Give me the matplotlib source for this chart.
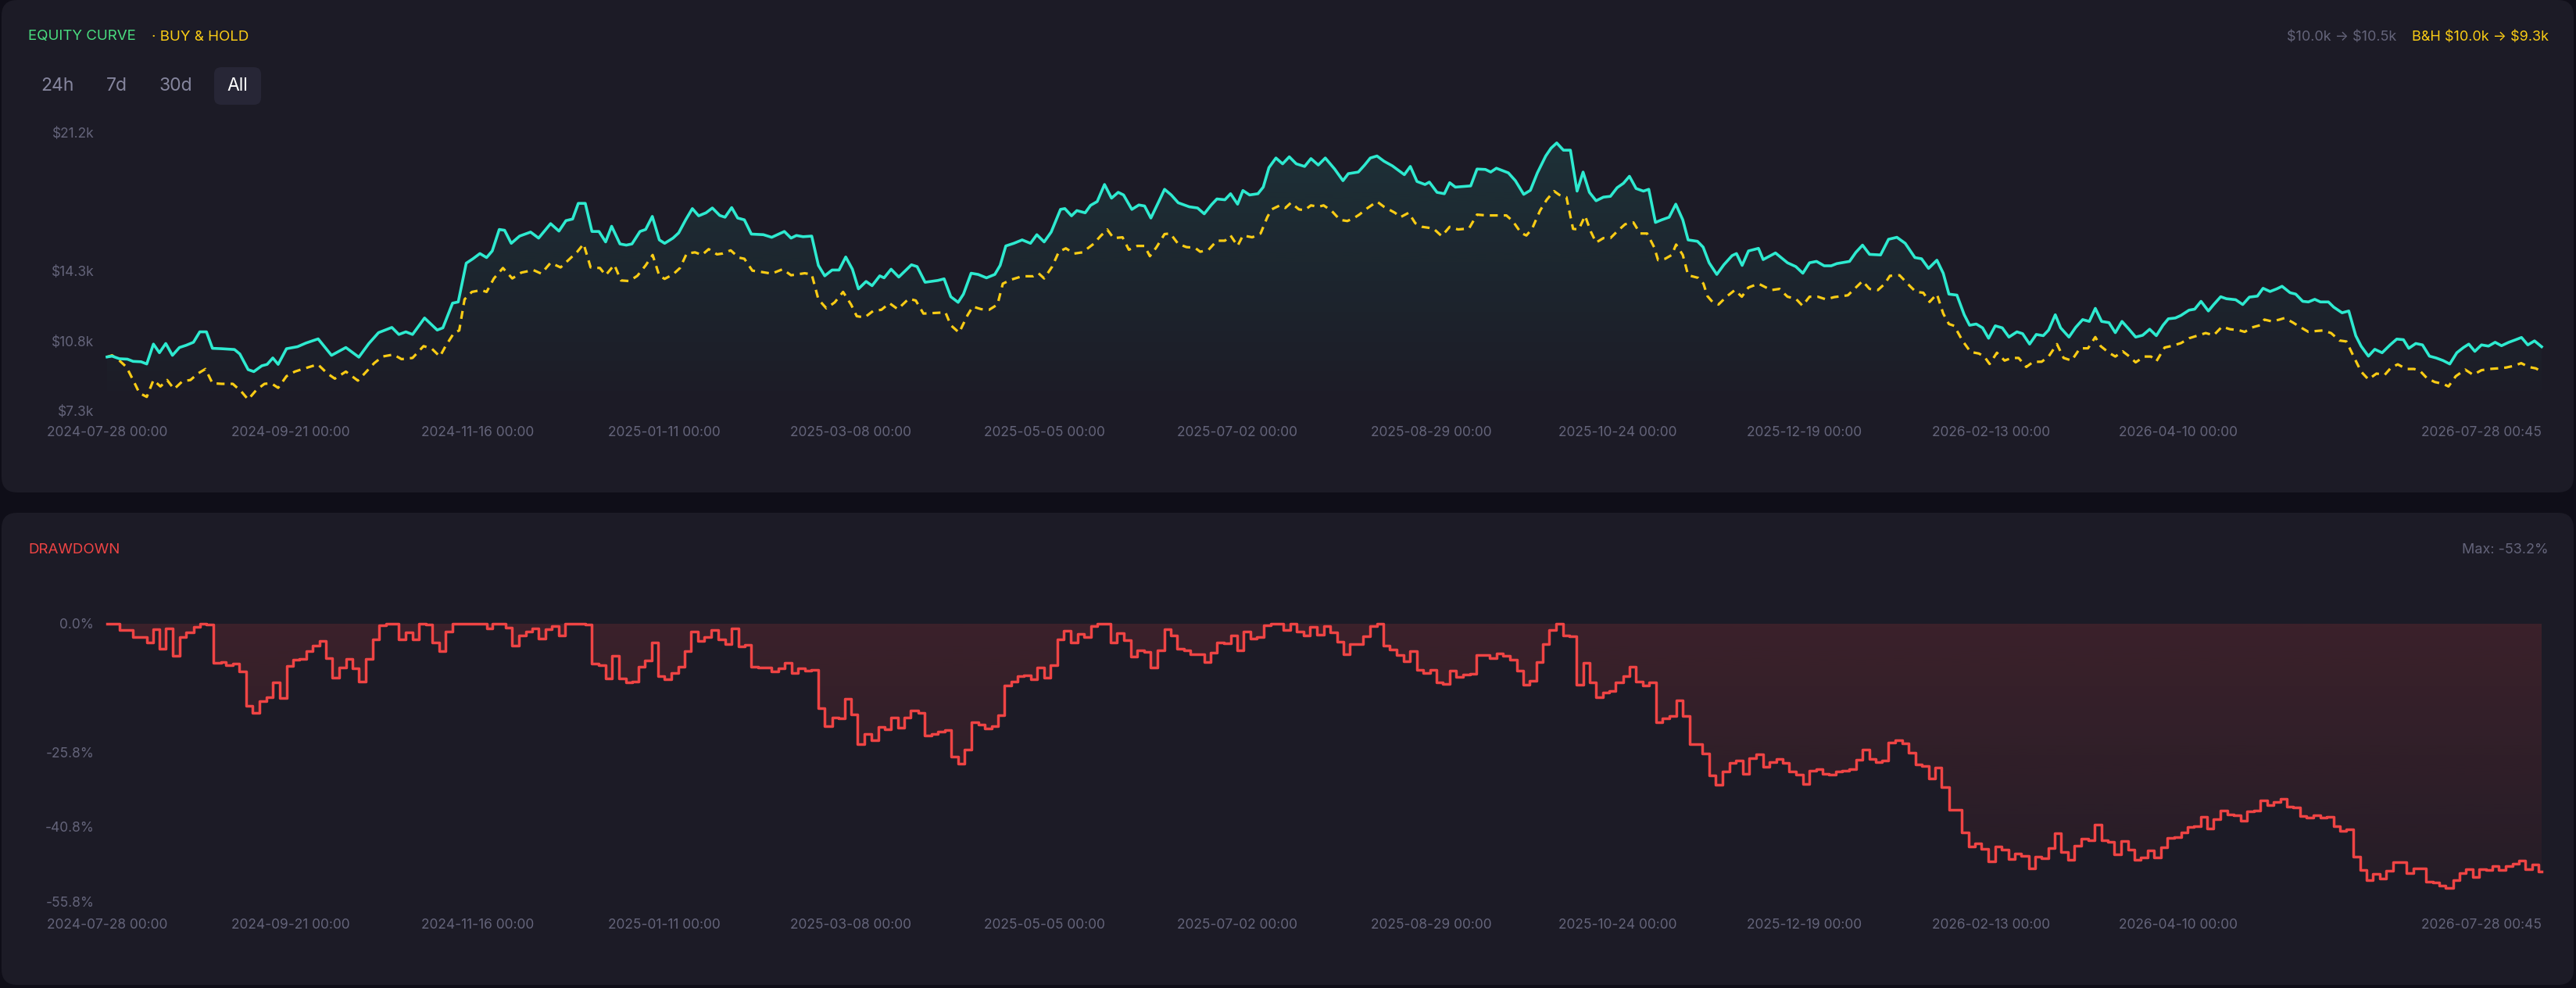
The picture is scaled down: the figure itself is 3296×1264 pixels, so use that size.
import numpy as np
import pandas as pd
import matplotlib
matplotlib.use("Agg")
import matplotlib.pyplot as plt
from matplotlib.patches import FancyBboxPatch
from matplotlib.colors import to_rgb

plt.rcParams['font.family'] = ['Inter', 'DejaVu Sans']
plt.rcParams['text.parse_math'] = False

## data: days since 2024-07-28 00:00 and values

eq_day = [0, 1.5, 3.7, 6.1, 7.8, 10.2, 11.9, 13.9, 15.7, 17.6,
          19.6, 21.7, 23.7, 25.9, 27.8, 29.8, 31.6, 34.4, 38.2, 39.8,
          42.3, 44.0, 46.4, 48.0, 49.7, 51.3, 53.8, 57.1, 59.6, 63.3,
          67.3, 71.6, 75.5, 78.5, 81.4, 85.4, 87.5, 89.6, 91.6, 95.2,
          99.0, 100.7, 103.6, 105.3, 107.7, 109.7, 111.8, 113.8, 115.5, 117.6,
          119.2, 121.2, 123.7, 127.0, 129.4, 133.0, 135.5, 137.6, 139.6, 141.3,
          143.4, 145.4, 147.5, 149.5, 151.3, 153.8, 155.7, 157.4, 159.8, 161.5,
          163.5, 165.6, 167.2, 169.7, 171.4, 173.5, 175.5, 177.4, 179.6, 181.5,
          183.7, 185.3, 187.3, 189.1, 191.1, 193.2, 196.8, 199.3, 203.1, 205.1,
          206.7, 208.7, 211.3, 213.3, 215.2, 217.4, 219.5, 221.5, 223.5, 225.3,
          227.6, 229.4, 231.7, 233.0, 235.1, 237.4, 241.2, 242.9, 245.3, 249.1,
          251.0, 253.0, 255.2, 256.8, 259.1, 261.2, 263.7, 266.2, 267.8, 269.5,
          271.9, 274.4, 276.9, 278.8, 281.0, 283.1, 285.9, 287.2, 289.2, 290.8,
          293.3, 294.9, 296.9, 299.1, 301.2, 303.2, 304.8, 307.3, 309.4, 311.1,
          313.0, 315.2, 317.1, 319.1, 321.2, 324.5, 327.0, 329.0, 331.1, 332.8,
          335.2, 336.9, 339.0, 340.6, 342.6, 345.1, 346.7, 348.4, 350.5, 352.5,
          354.5, 356.6, 359.1, 361.0, 363.2, 365.3, 368.1, 370.6, 372.2, 375.2,
          377.1, 378.8, 380.8, 382.9, 385.4, 389.0, 390.8, 392.8, 395.2, 396.5,
          398.8, 401.0, 402.6, 404.3, 408.9, 410.8, 413.3, 414.9, 416.6, 420.2,
          422.3, 424.8, 426.8, 428.9, 431.4, 433.0, 434.7, 436.7, 438.8, 440.8,
          442.6, 444.5, 446.5, 448.7, 450.8, 452.8, 454.7, 456.5, 458.5, 460.7,
          462.3, 464.3, 466.2, 468.4, 470.4, 472.5, 474.1, 476.9, 478.6, 480.4,
          482.7, 484.8, 487.3, 488.6, 490.3, 492.2, 495.2, 496.6, 500.3, 503.9,
          506.4, 508.5, 510.5, 512.6, 514.9, 517.0, 518.7, 522.5, 524.4, 526.4,
          528.5, 531.8, 534.2, 536.7, 539.2, 542.1, 544.1, 546.2, 548.7, 550.6,
          552.3, 554.7, 556.9, 558.5, 560.5, 562.4, 564.2, 566.2, 568.3, 570.3,
          572.7, 574.4, 576.5, 578.5, 580.6, 582.2, 584.2, 585.8, 588.3, 590.3,
          592.4, 594.4, 596.2, 598.1, 600.3, 602.2, 604.2, 606.3, 608.3, 610.4,
          612.5, 614.5, 616.5, 618.1, 620.2, 621.9, 624.3, 626.0, 627.9, 630.1,
          631.7, 633.8, 635.5, 638.3, 640.4, 642.4, 644.8, 646.5, 648.6, 650.6,
          652.2, 654.6, 656.3, 658.4, 660.1, 662.0, 663.7, 666.1, 667.7, 670.2,
          672.2, 674.3, 675.9, 678.1, 680.0, 682.2, 684.6, 686.6, 688.6, 690.2,
          692.3, 694.3, 696.4, 698.4, 700.5, 702.5, 704.6, 706.6, 708.2, 710.0,
          712.0, 714.1, 716.1, 718.0, 720.2, 722.3, 724.0, 725.9, 727.9, 730.031]
eq_val = [10.00, 10.04, 9.91, 9.89, 9.78, 9.76, 9.65, 10.64, 10.21, 10.67,
          10.08, 10.47, 10.58, 10.73, 11.25, 11.25, 10.43, 10.41, 10.37, 10.15,
          9.37, 9.27, 9.56, 9.63, 9.95, 9.63, 10.41, 10.51, 10.69, 10.90,
          10.08, 10.47, 9.99, 10.67, 11.21, 11.47, 11.12, 11.25, 11.12, 11.94,
          11.34, 11.45, 12.68, 12.74, 14.67, 14.89, 15.15, 14.95, 15.28, 16.35,
          16.31, 15.66, 16.02, 16.22, 15.92, 16.64, 16.27, 16.79, 16.87, 17.65,
          17.65, 16.25, 16.25, 15.73, 16.51, 15.63, 15.57, 15.63, 16.25, 16.35,
          17.00, 15.83, 15.66, 15.92, 16.18, 16.83, 17.39, 17.03, 17.18, 17.42,
          17.05, 16.96, 17.44, 16.92, 16.83, 16.12, 16.09, 15.96, 16.25, 15.92,
          16.05, 15.99, 16.02, 14.56, 14.04, 14.33, 14.33, 14.98, 14.37, 13.39,
          13.76, 13.55, 14.04, 13.94, 14.37, 13.98, 14.59, 14.50, 13.72, 13.81,
          13.89, 13.00, 12.72, 13.13, 14.17, 14.11, 13.94, 14.11, 14.56, 15.53,
          15.66, 15.83, 15.66, 16.09, 15.73, 16.22, 17.35, 17.39, 17.03, 17.29,
          17.18, 17.55, 17.74, 18.59, 17.91, 18.20, 18.07, 17.35, 17.57, 17.52,
          16.92, 17.68, 18.35, 18.07, 17.68, 17.48, 17.42, 17.13, 17.57, 17.87,
          17.83, 18.13, 17.61, 18.29, 18.07, 18.13, 18.46, 19.43, 19.91, 19.62,
          19.97, 19.62, 19.49, 19.88, 19.56, 19.91, 19.36, 18.78, 19.13, 19.21,
          19.56, 19.91, 20.01, 19.75, 19.52, 19.08, 19.49, 18.74, 18.59, 18.71,
          18.20, 18.13, 18.68, 18.46, 18.52, 19.36, 19.34, 19.21, 19.40, 19.17,
          18.78, 18.10, 18.30, 19.17, 20.01, 20.40, 20.66, 20.30, 20.30, 18.26,
          19.21, 18.20, 17.78, 17.96, 18.00, 18.43, 18.65, 19.00, 18.39, 18.26,
          18.35, 16.70, 16.83, 16.96, 17.61, 16.83, 15.83, 15.76, 15.47, 14.69,
          14.11, 14.59, 15.05, 15.15, 14.56, 15.28, 15.41, 14.85, 15.18, 14.69,
          14.50, 14.17, 14.69, 14.76, 14.54, 14.54, 14.65, 14.76, 15.21, 15.57,
          15.11, 15.08, 15.86, 15.96, 15.66, 14.95, 14.89, 14.41, 14.82, 14.17,
          13.13, 13.08, 12.10, 11.58, 11.64, 11.45, 10.93, 11.55, 11.45, 10.99,
          11.25, 11.16, 10.64, 11.12, 11.06, 11.34, 12.10, 11.45, 10.99, 11.47,
          11.86, 11.77, 12.42, 11.77, 11.71, 11.21, 11.77, 11.38, 10.99, 11.08,
          11.38, 11.06, 11.58, 11.90, 11.94, 12.07, 12.33, 12.38, 12.77, 12.29,
          12.61, 13.00, 12.90, 12.85, 12.61, 12.98, 13.03, 13.42, 13.26, 13.39,
          13.52, 13.20, 13.13, 12.77, 12.74, 12.87, 12.74, 12.74, 12.48, 12.20,
          12.29, 11.06, 10.54, 10.04, 10.38, 10.21, 10.60, 10.89, 10.86, 10.43,
          10.67, 10.60, 10.04, 9.95, 9.82, 9.65, 10.21, 10.47, 10.64, 10.28,
          10.60, 10.54, 10.73, 10.56, 10.73, 10.86, 10.97, 10.60, 10.80, 10.51]

bh_day = [0, 1.5, 3.7, 5.8, 7.8, 9.7, 11.9, 13.9, 16.0, 18.0,
          20.1, 22.6, 25.0, 27.2, 29.5, 31.6, 34.4, 37.7, 40.3, 42.3,
          44.8, 47.2, 49.2, 51.3, 53.8, 56.3, 58.7, 63.2, 66.1, 68.3,
          71.6, 75.2, 77.2, 80.1, 82.6, 85.9, 88.3, 91.6, 94.9, 97.4,
          99.8, 101.5, 104.0, 105.6, 107.2, 109.4, 112.2, 113.8, 116.0, 118.7,
          121.5, 124.2, 127.8, 130.2, 133.0, 136.0, 138.5, 141.0, 142.9, 145.0,
          147.8, 149.5, 152.1, 154.1, 156.6, 159.0, 161.5, 163.6, 165.6, 167.2,
          169.7, 171.8, 173.8, 176.3, 178.4, 180.4, 182.9, 184.5, 187.0, 189.4,
          191.1, 193.5, 196.0, 199.3, 202.6, 205.1, 209.2, 211.3, 213.3, 215.7,
          218.2, 220.7, 223.1, 224.8, 227.2, 229.7, 232.2, 234.6, 237.1, 240.4,
          242.5, 244.8, 249.1, 251.4, 253.0, 255.5, 258.0, 259.6, 262.1, 264.5,
          267.0, 268.6, 271.1, 274.4, 277.7, 279.3, 281.0, 283.4, 285.4, 287.5,
          290.0, 292.5, 295.8, 297.9, 299.9, 301.8, 304.5, 306.4, 308.9, 311.1,
          312.7, 314.7, 317.1, 318.8, 321.2, 323.7, 326.2, 327.8, 330.3, 332.8,
          335.2, 336.9, 339.0, 340.6, 343.4, 345.9, 347.9, 349.2, 351.7, 353.3,
          355.0, 357.4, 359.1, 361.0, 363.2, 364.8, 367.3, 369.7, 371.9, 373.9,
          375.5, 378.0, 380.8, 382.9, 386.2, 387.8, 390.3, 392.3, 394.4, 397.7,
          400.2, 402.6, 405.1, 408.4, 410.8, 413.6, 416.6, 419.6, 421.5, 424.0,
          425.6, 427.3, 429.7, 431.7, 433.9, 435.5, 437.6, 439.6, 441.3, 443.2,
          444.9, 446.5, 448.7, 450.8, 452.8, 455.2, 457.7, 459.7, 461.8, 463.9,
          465.1, 467.2, 469.2, 470.5, 472.5, 474.1, 477.1, 478.7, 479.9, 481.5,
          483.2, 485.6, 488.1, 490.2, 492.2, 495.2, 499.0, 501.5, 503.9, 506.4,
          508.4, 510.5, 513.0, 515.4, 517.9, 522.0, 524.4, 526.4, 528.5, 531.0,
          533.1, 534.6, 537.5, 540.5, 542.4, 544.6, 546.5, 548.7, 550.6, 552.3,
          553.9, 556.4, 558.8, 561.3, 562.9, 564.5, 566.7, 569.0, 571.1, 573.2,
          575.5, 577.6, 580.1, 582.2, 584.7, 586.7, 589.1, 591.6, 594.0, 596.2,
          597.8, 600.3, 602.2, 604.4, 606.3, 608.3, 610.9, 612.9, 614.5, 617.0,
          619.4, 621.9, 624.3, 626.8, 629.3, 631.7, 634.2, 636.6, 639.1, 641.0,
          643.2, 645.6, 646.9, 649.2, 651.4, 653.0, 655.5, 657.4, 660.1, 662.3,
          664.5, 666.9, 669.4, 671.5, 673.5, 675.9, 678.1, 680.5, 683.0, 684.9,
          686.9, 689.5, 691.8, 693.6, 695.6, 698.0, 700.5, 702.1, 704.3, 707.1,
          709.5, 712.0, 714.4, 716.9, 719.3, 721.8, 723.9, 726.2, 728.3, 730.031]
bh_val = [10.00, 10.08, 9.82, 9.50, 8.85, 8.20, 8.01, 8.85, 8.53, 8.85,
          8.40, 8.79, 8.85, 9.17, 9.40, 8.69, 8.66, 8.66, 8.27, 7.88,
          8.36, 8.66, 8.69, 8.46, 9.04, 9.27, 9.40, 9.63, 9.17, 8.92,
          9.27, 8.82, 9.17, 9.69, 10.02, 10.12, 9.89, 9.95, 10.54, 10.41,
          10.02, 10.54, 11.19, 11.32, 12.87, 13.24, 13.33, 13.24, 13.91, 14.43,
          13.91, 14.20, 14.33, 14.15, 14.69, 14.46, 14.85, 15.24, 15.63, 14.46,
          14.43, 14.07, 14.59, 13.81, 13.78, 14.04, 14.56, 15.08, 14.04, 13.89,
          14.11, 14.43, 15.15, 15.21, 15.08, 15.37, 15.11, 15.15, 15.31, 14.95,
          14.89, 14.30, 14.24, 14.15, 14.37, 14.07, 14.17, 14.11, 12.87, 12.42,
          12.72, 13.24, 12.61, 12.03, 11.97, 12.29, 12.35, 12.68, 12.38, 12.90,
          12.81, 12.16, 12.20, 12.22, 11.58, 11.21, 12.07, 12.51, 12.38, 12.35,
          12.61, 13.65, 13.85, 14.02, 14.02, 14.17, 13.91, 14.50, 15.24, 15.41,
          15.15, 15.21, 15.63, 16.02, 16.35, 15.92, 15.96, 15.34, 15.53, 15.53,
          15.02, 15.47, 16.12, 16.15, 15.63, 15.47, 15.44, 15.24, 15.34, 15.79,
          15.79, 16.05, 15.53, 16.05, 15.96, 16.15, 16.96, 17.35, 17.55, 17.42,
          17.68, 17.35, 17.31, 17.55, 17.48, 17.55, 17.26, 16.83, 16.77, 16.92,
          17.09, 17.42, 17.74, 17.48, 17.18, 16.96, 17.18, 16.66, 16.48, 16.40,
          16.02, 16.48, 16.35, 16.40, 17.09, 17.05, 17.05, 17.05, 16.77, 16.18,
          16.05, 16.38, 17.29, 17.83, 18.26, 18.07, 17.96, 16.38, 16.35, 17.03,
          16.25, 15.70, 15.92, 15.92, 16.25, 16.61, 16.70, 16.15, 16.15, 15.47,
          14.82, 14.89, 15.08, 15.60, 15.08, 14.07, 13.94, 13.65, 13.03, 12.72,
          12.61, 13.00, 13.33, 13.00, 13.46, 13.65, 13.33, 13.39, 13.00, 12.90,
          12.55, 13.00, 13.00, 12.87, 12.98, 13.07, 13.46, 13.78, 13.39, 13.33,
          13.65, 14.04, 14.07, 13.55, 13.24, 13.20, 12.74, 13.13, 12.16, 11.64,
          11.55, 10.80, 10.25, 10.17, 10.02, 9.65, 10.21, 9.82, 9.95, 9.95,
          9.50, 9.76, 9.76, 10.02, 10.64, 9.95, 9.82, 10.43, 10.43, 10.99,
          10.54, 10.21, 10.02, 10.28, 10.04, 9.73, 10.02, 10.02, 9.78, 10.47,
          10.56, 10.69, 10.93, 11.06, 11.19, 11.08, 11.51, 11.38, 11.34, 11.25,
          11.47, 11.58, 11.86, 11.77, 11.86, 11.94, 11.71, 11.51, 11.25, 11.29,
          11.32, 11.19, 10.82, 10.77, 10.08, 9.27, 8.88, 9.17, 9.11, 9.47,
          9.63, 9.40, 9.40, 9.30, 8.95, 8.75, 8.66, 8.53, 9.04, 9.37,
          9.11, 9.34, 9.40, 9.43, 9.47, 9.56, 9.69, 9.50, 9.43, 9.27]

dd_day = [0, 3.7, 7.8, 11.9, 13.9, 15.7, 17.6, 19.8, 21.7, 23.7,
          25.9, 27.8, 29.8, 31.8, 34.1, 35.7, 37.7, 39.5, 41.6, 43.6,
          45.6, 47.7, 49.7, 51.7, 53.8, 55.8, 57.7, 59.7, 61.7, 63.7,
          65.6, 67.6, 69.6, 71.6, 73.5, 75.5, 77.6, 79.6, 81.6, 83.6,
          87.5, 89.5, 91.6, 93.6, 95.6, 97.5, 99.5, 101.5, 103.5, 113.8,
          115.6, 119.6, 121.5, 123.5, 125.5, 127.5, 129.4, 131.4, 133.4, 135.4,
          137.3, 143.4, 145.4, 147.5, 149.5, 151.5, 153.6, 155.6, 157.4, 159.4,
          161.3, 163.3, 165.3, 167.2, 169.2, 171.2, 173.2, 175.1, 177.1, 179.1,
          181.2, 183.2, 185.3, 187.3, 189.3, 191.2, 193.2, 195.2, 199.1, 201.3,
          203.2, 205.2, 207.2, 209.2, 211.1, 213.3, 215.2, 217.4, 219.4, 221.2,
          223.1, 225.1, 227.2, 229.2, 231.2, 233.2, 235.1, 237.1, 239.0, 241.0,
          243.2, 245.1, 247.3, 249.2, 251.2, 253.2, 255.2, 257.1, 259.1, 261.2,
          263.2, 265.2, 267.2, 269.1, 271.1, 273.1, 275.0, 277.0, 279.0, 281.0,
          282.9, 284.9, 286.9, 289.0, 291.0, 293.0, 295.0, 296.9, 300.9, 302.8,
          304.8, 307.0, 308.9, 310.9, 312.9, 315.0, 317.0, 318.9, 320.9, 322.9,
          324.9, 326.8, 329.0, 330.9, 332.9, 334.9, 336.9, 338.8, 340.8, 342.8,
          344.8, 346.9, 348.9, 352.8, 354.8, 356.8, 358.7, 360.7, 362.7, 364.8,
          366.8, 368.8, 370.7, 372.7, 376.7, 378.8, 380.8, 382.7, 384.7, 386.7,
          388.7, 390.6, 392.8, 394.7, 396.7, 398.7, 400.6, 402.6, 404.6, 406.7,
          408.7, 410.7, 412.7, 414.6, 416.6, 418.6, 420.7, 422.7, 424.6, 426.6,
          428.6, 430.6, 432.5, 434.5, 436.7, 438.6, 440.6, 442.6, 444.6, 446.5,
          448.5, 450.5, 452.4, 454.6, 456.5, 458.5, 460.5, 462.5, 464.4, 466.4,
          468.5, 470.5, 472.5, 474.5, 478.4, 480.4, 482.4, 484.5, 486.6, 488.5,
          490.5, 492.5, 494.4, 496.6, 498.5, 500.5, 502.5, 504.4, 506.4, 508.5,
          510.5, 512.5, 514.4, 516.4, 518.4, 520.3, 522.3, 524.4, 526.4, 528.4,
          530.3, 532.3, 534.2, 536.2, 538.3, 540.3, 542.3, 544.2, 546.2, 548.2,
          550.1, 552.3, 556.2, 558.2, 560.1, 562.1, 564.2, 566.2, 568.2, 570.1,
          572.1, 574.0, 576.2, 578.1, 580.1, 582.1, 584.0, 586.0, 588.0, 590.0,
          592.1, 594.0, 596.0, 598.0, 599.9, 601.9, 603.9, 606.0, 608.0, 609.9,
          611.9, 613.9, 615.8, 617.8, 619.9, 621.9, 623.8, 625.8, 627.8, 629.7,
          631.7, 633.8, 635.8, 637.8, 639.7, 641.7, 643.7, 645.6, 647.8, 649.7,
          651.7, 653.7, 655.6, 657.6, 659.6, 661.7, 663.6, 665.6, 667.6, 669.6,
          671.5, 673.5, 675.6, 677.6, 679.5, 681.5, 683.5, 685.4, 689.5, 691.5,
          695.4, 697.4, 699.4, 701.3, 703.5, 705.4, 707.4, 709.4, 711.3, 713.3,
          715.3, 717.2, 719.3, 721.3, 723.3, 725.2, 727.2, 729.2, 730.031]
dd_val = [0.0, -1.26, -2.67, -3.72, -1.10, -5.03, -0.94, -6.50, -2.67, -1.78,
          -0.68, 0.0, -0.16, -7.91, -7.76, -8.28, -8.02, -9.64, -16.46, -17.87,
          -15.51, -14.73, -11.84, -14.99, -8.44, -7.23, -7.02, -5.45, -4.35, -3.46,
          -6.87, -10.80, -8.80, -7.02, -8.96, -11.69, -7.13, -3.20, -0.31, 0.0,
          -3.09, -1.73, -3.20, 0.0, -0.21, -3.72, -5.45, -1.62, 0.0, -0.94,
          0.0, -0.73, -4.40, -2.41, -1.62, -0.94, -3.04, -1.10, -0.42, -2.41,
          0.0, -0.10, -8.07, -8.28, -11.06, -6.50, -11.06, -11.84, -11.58, -8.60,
          -7.39, -3.72, -10.53, -11.16, -9.85, -8.70, -5.56, -1.62, -3.46, -2.67,
          -1.26, -3.20, -4.09, -1.00, -4.51, -4.25, -8.60, -8.80, -9.64, -8.96,
          -7.91, -9.91, -8.96, -9.49, -9.22, -16.98, -20.65, -18.92, -19.08, -15.09,
          -18.24, -24.16, -22.22, -23.48, -20.75, -21.28, -18.82, -20.86, -18.92, -17.50,
          -17.87, -22.43, -22.22, -21.70, -21.44, -26.78, -28.09, -25.37, -19.81, -20.23,
          -21.02, -20.60, -18.40, -12.37, -11.58, -10.53, -10.38, -11.22, -8.80, -10.90,
          -8.28, -3.20, -1.47, -3.72, -1.99, -2.67, -0.42, 0.0, -3.72, -1.89,
          -3.30, -6.60, -5.40, -5.66, -8.86, -5.40, -1.10, -2.41, -5.03, -5.40,
          -6.08, -6.18, -7.76, -5.82, -3.72, -3.98, -2.41, -5.35, -1.62, -2.93,
          -2.67, -0.31, 0.0, -1.26, 0.0, -1.62, -2.31, -0.58, -2.15, -0.42,
          -1.78, -3.62, -6.08, -4.09, -2.57, -0.42, 0.0, -4.40, -5.19, -6.34,
          -7.55, -5.56, -9.33, -9.85, -9.33, -11.84, -12.11, -9.49, -10.64, -10.27,
          -10.11, -6.24, -6.34, -6.97, -5.97, -6.50, -7.23, -9.38, -12.26, -11.43,
          -7.65, -4.09, -1.26, 0.0, -2.31, -2.52, -12.26, -7.81, -11.74, -14.73,
          -13.78, -13.57, -11.74, -10.53, -8.70, -11.58, -12.37, -11.84, -19.86, -19.02,
          -18.50, -15.41, -18.55, -24.27, -26.10, -30.45, -32.44, -29.77, -27.99, -27.46,
          -30.19, -27.04, -26.26, -28.72, -27.83, -27.20, -27.99, -29.66, -30.29, -32.18,
          -29.56, -29.24, -30.19, -30.35, -29.77, -29.56, -29.24, -27.31, -25.26, -27.20,
          -27.83, -27.57, -23.90, -23.48, -24.00, -26.00, -28.35, -28.62, -31.08, -28.88,
          -32.81, -37.37, -41.98, -44.76, -44.23, -45.28, -47.85, -44.76, -45.39, -47.38,
          -46.28, -46.70, -49.21, -46.86, -47.22, -45.13, -42.14, -45.91, -47.48, -44.60,
          -43.29, -43.55, -40.41, -43.55, -43.92, -46.44, -43.71, -45.39, -47.48, -46.96,
          -45.65, -47.06, -45.02, -43.03, -42.92, -41.98, -40.93, -40.67, -38.84, -41.20,
          -39.36, -37.63, -38.31, -38.47, -39.62, -37.68, -37.63, -35.53, -36.48, -35.85,
          -35.17, -36.74, -37.00, -38.68, -38.99, -38.47, -38.94, -38.84, -40.67, -41.72,
          -41.30, -46.86, -49.58, -51.60, -50.37, -51.26, -49.74, -47.90, -50.21, -49.16,
          -51.94, -52.10, -52.60, -53.20, -51.57, -50.10, -49.32, -50.89, -49.32, -49.58,
          -48.69, -49.58, -48.69, -48.27, -47.59, -49.32, -48.43, -49.84, -49.84]

tick_labels = ['2024-07-28 00:00', '2024-09-21 00:00', '2024-11-16 00:00',
               '2025-01-11 00:00', '2025-03-08 00:00', '2025-05-05 00:00',
               '2025-07-02 00:00', '2025-08-29 00:00', '2025-10-24 00:00',
               '2025-12-19 00:00', '2026-02-13 00:00', '2026-04-10 00:00',
               '2026-07-28 00:45']
eq_ticks = [7.3, 10.8, 14.3, 21.2]
dd_ticks = [0.0, -25.8, -40.8, -55.8]

start = pd.Timestamp('2024-07-28')
def to_dates(days):
    return start + pd.to_timedelta(np.asarray(days, dtype=float), unit='D')

## colours
W, H = 3296, 1264
BG = '#0f0e18'
PANEL = '#1c1b26'
TEAL = '#2eead0'
YELLOW = '#facc15'
RED = '#ef4444'
GREEN = '#4ade80'
GRAY = '#64647a'
BTN = '#85859d'

fig = plt.figure(figsize=(W / 100, H / 100), dpi=100, facecolor=BG)

# background layer in pixel coordinates
bg = fig.add_axes([0, 0, 1, 1], zorder=0)
bg.set_xlim(0, W)
bg.set_ylim(H, 0)
bg.axis('off')
for y0, h in [(0, 630), (656, 604)]:
    bg.add_patch(FancyBboxPatch((2, y0), 3291, h, boxstyle='round,pad=0,rounding_size=20',
                                facecolor=PANEL, edgecolor='none'))
bg.add_patch(FancyBboxPatch((274, 86), 60, 48, boxstyle='round,pad=0,rounding_size=9',
                            facecolor='#272636', edgecolor='none'))

bg.text(36, 47, 'EQUITY CURVE', color=GREEN, fontsize=13.5, va='center')
bg.text(194, 47, '· BUY & HOLD', color=YELLOW, fontsize=13.5, va='center')
for x, lab in [(52, '24h'), (136, '7d'), (204, '30d')]:
    bg.text(x, 110, lab, color=BTN, fontsize=16.5, va='center')
bg.text(290, 110, 'All', color='white', fontsize=16.5, va='center')
bg.text(3261, 48, 'B&H $10.0k → $9.3k', color=YELLOW, fontsize=13, va='center', ha='right')
bg.text(3066, 48, '$10.0k → $10.5k', color=GRAY, fontsize=13, va='center', ha='right')
bg.text(36, 704, 'DRAWDOWN', color=RED, fontsize=13.5, va='center')
bg.text(3261, 704, 'Max: -53.2%', color=GRAY, fontsize=13, va='center', ha='right')

x_left, x_right = 137, 3252
ax1 = fig.add_axes([x_left / W, (H - 526) / H, (x_right - x_left) / W, (526 - 169) / H], zorder=2)
ax2 = fig.add_axes([x_left / W, (H - 1153) / H, (x_right - x_left) / W, (1153 - 798) / H], zorder=2)

eq_x = to_dates(eq_day)
bh_x = to_dates(bh_day)
dd_x = to_dates(dd_day)
tick_x = pd.to_datetime(tick_labels)


def gradient_fill(ax, x, y, base, color, a_top, a_bot, step=None):
    coll = ax.fill_between(x, y, base, step=step, facecolor='none', edgecolor='none', lw=0)
    x0, x1 = ax.get_xlim()
    y0, y1 = ax.get_ylim()
    rgba = np.zeros((256, 1, 4))
    rgba[..., :3] = to_rgb(color)
    rgba[..., 3] = np.linspace(a_top, a_bot, 256)[:, None]
    im = ax.imshow(rgba, aspect='auto', extent=[x0, x1, y0, y1], origin='upper',
                   zorder=1, interpolation='bilinear')
    im.set_clip_path(coll.get_paths()[0], transform=ax.transData)
    ax.set_xlim(x0, x1)
    ax.set_ylim(y0, y1)


for ax in (ax1, ax2):
    ax.set_facecolor('none')
    for s in ax.spines.values():
        s.set_visible(False)
    ax.set_xlim(tick_x[0], tick_x[-1])
    ax.set_xticks(tick_x)
    ax.set_xticklabels(tick_labels)
    ax.tick_params(length=0, colors=GRAY, labelsize=12.5)
    ax.tick_params(axis='y', pad=12)
    ax.get_xticklabels()[-1].set_ha('right')

# equity panel
ax1.set_ylim(7.3, 21.2)
gradient_fill(ax1, eq_x, eq_val, 7.3, TEAL, 0.11, 0.0)
ax1.plot(eq_x, eq_val, color=TEAL, lw=2.6, zorder=4, solid_joinstyle='round', clip_on=False)
ax1.plot(bh_x, bh_val, color=YELLOW, lw=2.3, dashes=(3.2, 2.4), zorder=3, clip_on=False)
ax1.set_yticks(eq_ticks)
ax1.set_yticklabels(['$%.1fk' % v for v in eq_ticks])
ax1.tick_params(axis='x', pad=14)

# drawdown panel
ax2.set_ylim(-55.8, 0)
gradient_fill(ax2, dd_x, dd_val, 0, RED, 0.15, 0.04, step='post')
ax2.step(dd_x, dd_val, where='post', color=RED, lw=2.5, zorder=4, clip_on=False)
ax2.set_yticks(dd_ticks)
ax2.set_yticklabels(['%.1f%%' % v for v in dd_ticks])
ax2.tick_params(axis='x', pad=16)

fig.savefig('out.png', dpi=100, facecolor=BG)
